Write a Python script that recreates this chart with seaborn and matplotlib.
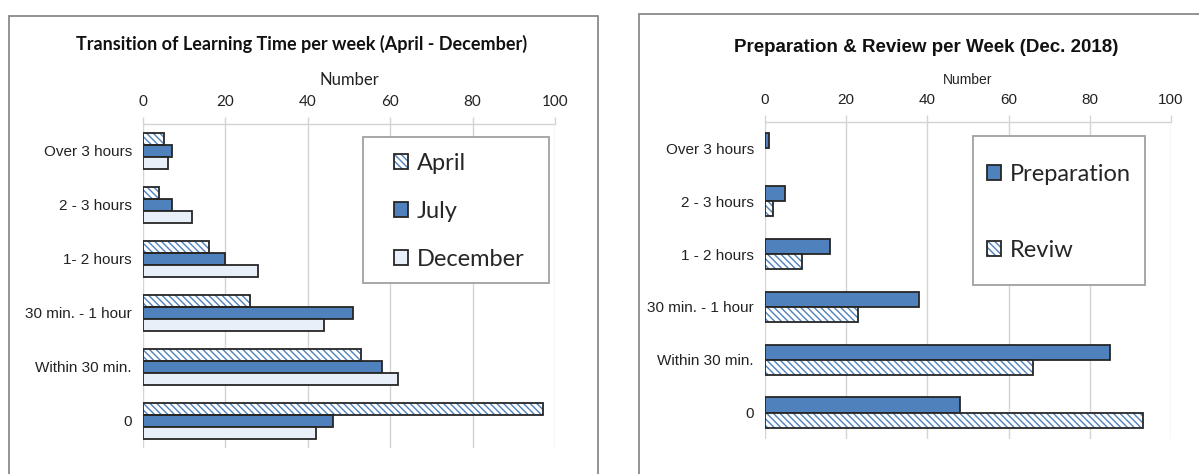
import seaborn as sns
import pandas as pd
import matplotlib.pyplot as plt
from matplotlib.patches import Patch, Rectangle
from matplotlib.legend_handler import HandlerTuple

# categories, top to bottom
categories = ["Over 3 hours", "2 - 3 hours", "1- 2 hours", "30 min. - 1 hour", "Within 30 min.", "0"]
categories_r = ["Over 3 hours", "2 - 3 hours", "1 - 2 hours", "30 min. - 1 hour", "Within 30 min.", "0"]

# left chart: learning time per week
april = [5, 4, 16, 26, 53, 97]
july = [7, 7, 20, 51, 58, 46]
december = [6, 12, 28, 44, 62, 42]

# right chart: preparation & review (Dec. 2018)
preparation = [1, 5, 16, 38, 85, 48]
review = [0, 2, 9, 23, 66, 93]

x_ticks = [0, 20, 40, 60, 80, 100]

BLUE = "#4f81bd"
LIGHT = "#e9eff8"
EDGE = "#262626"
GRID = "#d4d4d4"
HATCH = "\\\\\\\\\\"

CALIBRI = ["Lato", "DejaVu Sans"]
ARIAL = ["Liberation Sans", "DejaVu Sans"]

sns.set_theme(style="white")
plt.rcParams["hatch.linewidth"] = 1.0

W, H = 1199, 474
fig = plt.figure(figsize=(W / 100, H / 100), dpi=100)


def px_rect(x0, y0, x1, y1, **kw):
    # rectangle given in figure pixels (y from top)
    return Rectangle((x0 / W, 1 - y1 / H), (x1 - x0) / W, (y1 - y0) / H,
                     transform=fig.transFigure, **kw)


# panel frames
fig.add_artist(px_rect(9, 16, 598, 500, fill=False, ec="#8a8a8a", lw=1.3))
fig.add_artist(px_rect(639, 14, 1250, 500, fill=False, ec="#8a8a8a", lw=1.3))

ax1 = fig.add_axes([143 / W, 26 / H, 412 / W, 324 / H])
ax2 = fig.add_axes([765 / W, 35 / H, 406 / W, 317 / H])

df1 = pd.DataFrame({
    "cat": categories * 3,
    "month": ["April"] * 6 + ["July"] * 6 + ["December"] * 6,
    "num": april + july + december,
})
df2 = pd.DataFrame({
    "cat": categories_r * 2,
    "kind": ["Preparation"] * 6 + ["Reviw"] * 6,
    "num": preparation + review,
})

sns.barplot(data=df1, x="num", y="cat", hue="month", order=categories,
            hue_order=["April", "July", "December"], orient="h", width=0.667,
            dodge=True, legend=False, ax=ax1, errorbar=None,
            palette=["white", BLUE, LIGHT], saturation=1)
sns.barplot(data=df2, x="num", y="cat", hue="kind", order=categories_r,
            hue_order=["Preparation", "Reviw"], orient="h", width=0.575,
            dodge=True, legend=False, ax=ax2, errorbar=None,
            palette=[BLUE, "white"], saturation=1)


def style_hatched(ax, cont):
    for bar in cont:
        bar.set_facecolor("white")
        bar.set_edgecolor(BLUE)
        bar.set_linewidth(0)
        bar.set_hatch(HATCH)
        if bar.get_width() > 0:
            ax.add_patch(Rectangle(bar.get_xy(), bar.get_width(), bar.get_height(),
                                   fill=False, ec=EDGE, lw=1.3, zorder=bar.get_zorder() + 0.1))


def style_solid(cont):
    for bar in cont:
        bar.set_edgecolor(EDGE)
        bar.set_linewidth(1.3)


style_hatched(ax1, ax1.containers[0])
style_solid(ax1.containers[1])
style_solid(ax1.containers[2])
style_solid(ax2.containers[0])
style_hatched(ax2, ax2.containers[1])

for ax in (ax1, ax2):
    ax.set_xlim(0, 100)
    ax.set_ylim(5.5, -0.5)
    ax.set_xticks(x_ticks)
    ax.xaxis.tick_top()
    ax.xaxis.set_label_position("top")
    ax.grid(axis="x", color=GRID, lw=1)
    ax.set_axisbelow(True)
    for s in ("left", "right", "bottom"):
        ax.spines[s].set_visible(False)
    ax.spines["top"].set_color(GRID)
    ax.spines["top"].set_linewidth(1)
    ax.tick_params(axis="x", top=True, length=5, width=1, color=GRID, pad=6)
    ax.tick_params(axis="y", left=False, length=0, pad=8)
    ax.set_ylabel("")

# left chart text
ax1.set_xlabel("Number", fontsize=12, family=CALIBRI, labelpad=7, color="#222")
for t in ax1.get_xticklabels():
    t.set_family(CALIBRI)
    t.set_fontsize(11)
    t.set_color("#222")
for t in ax1.get_yticklabels():
    t.set_family(ARIAL)
    t.set_fontsize(11)
    t.set_color("#222")
fig.text(302 / W, 1 - 44 / H, "Transition of Learning Time per week (April - December)",
         ha="center", va="center", fontsize=13, fontweight="bold", family=CALIBRI, color="#111")

# right chart text
ax2.set_xlabel("Number", fontsize=10, family=ARIAL, labelpad=6, color="#222")
for t in ax2.get_xticklabels():
    t.set_family(ARIAL)
    t.set_fontsize(11)
    t.set_color("#222")
for t in ax2.get_yticklabels():
    t.set_family(ARIAL)
    t.set_fontsize(11)
    t.set_color("#222")
fig.text(926 / W, 1 - 47 / H, "Preparation & Review per Week (Dec. 2018)",
         ha="center", va="center", fontsize=13.5, fontweight="bold", family=ARIAL, color="#111")


# legends: frame drawn separately, entries placed without frame
def hatched_handle():
    return (Patch(facecolor="white", edgecolor=BLUE, lw=0, hatch=HATCH),
            Patch(fill=False, edgecolor=EDGE, lw=1.3))


leg_kw = dict(handler_map={tuple: HandlerTuple(ndivide=1, pad=0)}, loc="upper left",
              bbox_transform=fig.transFigure, prop={"family": CALIBRI, "size": 17},
              frameon=False, handlelength=0.6, handleheight=0.6, handletextpad=0.35,
              borderpad=0, borderaxespad=0)

fig.add_artist(px_rect(363, 137, 549, 283, fc="white", ec="#a0a0a0", lw=1.3, zorder=3))
h1 = [hatched_handle(),
      Patch(facecolor=BLUE, edgecolor=EDGE, lw=1.3),
      Patch(facecolor=LIGHT, edgecolor=EDGE, lw=1.3)]
leg1 = fig.legend(h1, ["April", "July", "December"], labelspacing=1.15,
                  bbox_to_anchor=(394 / W, 1 - 153 / H), **leg_kw)
leg1.set_zorder(4)

fig.add_artist(px_rect(973, 136, 1145, 285, fc="white", ec="#a0a0a0", lw=1.3, zorder=3))
h2 = [Patch(facecolor=BLUE, edgecolor=EDGE, lw=1.3), hatched_handle()]
leg2 = fig.legend(h2, ["Preparation", "Reviw"], labelspacing=2.33,
                  bbox_to_anchor=(987 / W, 1 - 164 / H), **leg_kw)
leg2.set_zorder(4)

fig.savefig("out.png", dpi=100, facecolor="white")
